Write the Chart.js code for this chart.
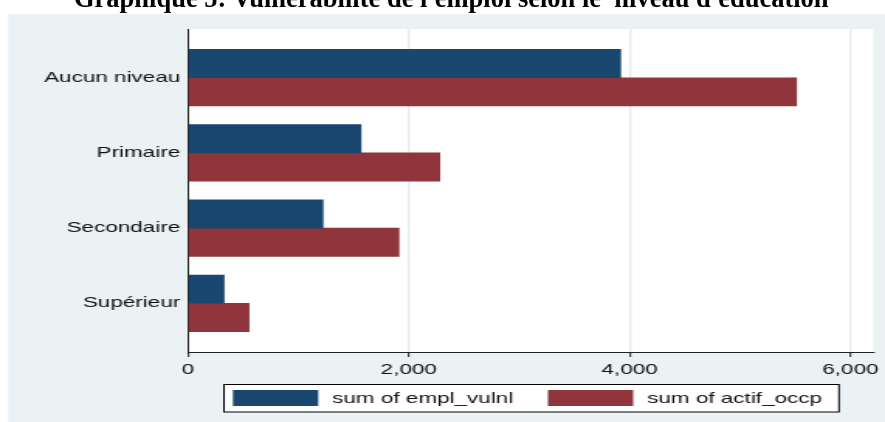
<!DOCTYPE html>
<html lang="fr">
<head>
<meta charset="utf-8">
<title>Vulnérabilité de l'emploi selon le niveau d'éducation</title>
<script src="https://cdn.jsdelivr.net/npm/chart.js@4.4.1/dist/chart.umd.min.js"></script>
<style>
	html, body { margin: 0; padding: 0; background: #fff; overflow: hidden; }
	#page { position: relative; width: 885px; height: 422px; overflow: hidden; }
	#titre {
		position: absolute; left: 74px; top: -15px; z-index: 2;
		font: bold 26.5px/26px "Liberation Serif", "Times New Roman", serif;
		white-space: pre; color: #000;
	}
	/* le graphique d'origine est étiré horizontalement */
	#zone { position: absolute; left: 0; top: 0; width: 571px; height: 422px; transform: scaleX(1.55); transform-origin: 0 0; }
</style>
</head>
<body>
<div id="page">
	<div id="zone"><canvas id="graphique" width="571" height="422"></canvas></div>
	<div id="titre">Graphique 5: Vulnérabilité de l'emploi selon le  niveau d'éducation</div>
</div>
<script>
// Données
const niveaux = ["Aucun niveau", "Primaire", "Secondaire", "Supérieur"];
const emplVulnl = [3918, 1566, 1222, 326];
const actifOccp = [5511, 2280, 1910, 552];
const ticksX = [0, 2000, 4000, 6000];
const series = ["sum of empl_vulnl", "sum of actif_occp"];
const couleurs = ["#1A476F", "#90353B"];

const police = { family: "'Liberation Sans', Arial, sans-serif", size: 14.5 };

// Fond gris-bleu de Stata + zone de tracé blanche
const fondStata = {
	id: "fondStata",
	beforeDraw(chart) {
		const { ctx, chartArea: a, width, height } = chart;
		ctx.save();
		ctx.fillStyle = "#EAF2F3";
		ctx.fillRect(5.2, 14, width - 5.2, height - 14);
		ctx.fillStyle = "#fff";
		ctx.fillRect(a.left, a.top, a.right - a.left, a.bottom - a.top);
		ctx.restore();
	},
};

// Légende encadrée, deux colonnes
const legendeStata = {
	id: "legendeStata",
	afterDraw(chart) {
		const ctx = chart.ctx;
		ctx.save();
		ctx.fillStyle = "#fff";
		ctx.fillRect(144.5, 384, 396.8, 28);
		ctx.strokeStyle = "#000";
		ctx.lineWidth = 1;
		ctx.strokeRect(144.5, 384.5, 396.8, 27.5);
		const colonnes = [150.3, 353.5];
		chart.data.datasets.forEach((ds, i) => {
			ctx.fillStyle = ds.backgroundColor;
			ctx.fillRect(colonnes[i], 390, 55, 16);
			ctx.fillStyle = "#111";
			ctx.font = `${police.size}px ${police.family}`;
			ctx.textBaseline = "middle";
			ctx.fillText(ds.label, colonnes[i] + 64, 398.5);
		});
		ctx.restore();
	},
};

const ctx = document.getElementById("graphique").getContext("2d");
new Chart(ctx, {
	type: "bar",
	data: {
		datasets: [
			{
				label: series[0],
				data: niveaux.map((n, i) => ({ x: emplVulnl[i], y: i })),
				backgroundColor: couleurs[0],
			},
			{
				label: series[1],
				data: niveaux.map((n, i) => ({ x: actifOccp[i], y: i })),
				backgroundColor: couleurs[1],
			},
		],
	},
	options: {
		indexAxis: "y",
		responsive: false,
		animation: false,
		barThickness: 28.3,
		layout: { padding: { top: 29, left: 0, right: 6.5, bottom: 40 } },
		plugins: {
			legend: { display: false },
			tooltip: { enabled: false },
		},
		scales: {
			x: {
				type: "linear",
				min: 0,
				max: 6208,
				afterBuildTicks: (s) => { s.ticks = ticksX.map((v) => ({ value: v })); },
				afterFit: (s) => { s.height = 30; },
				grid: {
					color: (c) => (c.tick && c.tick.value === 0 ? "rgba(0,0,0,0)" : "#E3ECEF"),
					lineWidth: 1.3,
					tickColor: "#222",
					tickLength: 5,
					tickWidth: 1,
				},
				border: { color: "#222", width: 1 },
				ticks: {
					color: "#111",
					font: police,
					padding: 4,
					maxRotation: 0,
					callback: (v) => v.toLocaleString("en-US"),
				},
			},
			y: {
				type: "linear",
				reverse: true,
				offset: false,
				min: -0.648,
				max: 3.648,
				afterBuildTicks: (s) => { s.ticks = niveaux.map((n, i) => ({ value: i })); },
				afterFit: (s) => { s.width = 121.3; },
				grid: { display: true, offset: false, drawOnChartArea: false, drawTicks: false },
				border: { color: "#222", width: 1 },
				ticks: {
					color: "#111",
					font: police,
					padding: 5,
					callback: (v) => niveaux[v],
				},
			},
		},
	},
	plugins: [fondStata, legendeStata],
});
</script>
</body>
</html>
